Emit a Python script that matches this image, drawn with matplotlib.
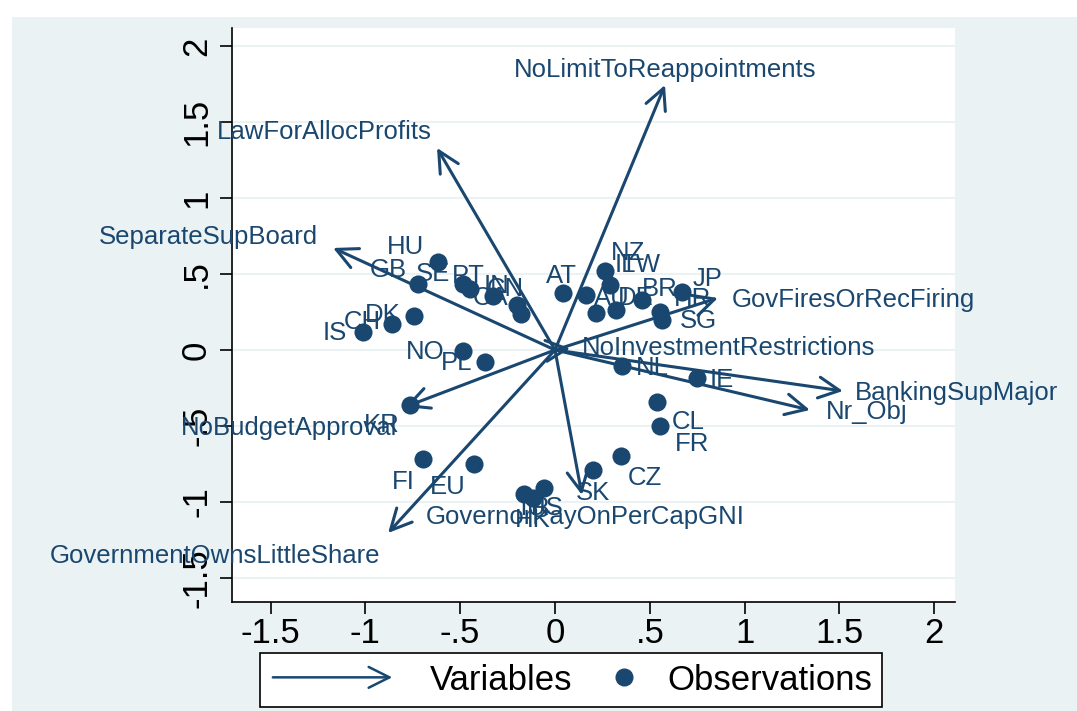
import matplotlib
matplotlib.use('Agg')
import matplotlib.pyplot as plt
from matplotlib.patches import FancyArrowPatch, Rectangle
from matplotlib.lines import Line2D
from matplotlib.legend_handler import HandlerBase

plt.rcParams['font.family'] = ['Liberation Sans', 'DejaVu Sans']

navy = '#1A476F'
bg = '#EAF2F3'

# variable loadings (arrow tips)
var_names = ['NoLimitToReappointments', 'LawForAllocProfits', 'SeparateSupBoard',
             'GovFiresOrRecFiring', 'BankingSupMajor', 'Nr_Obj', 'NoInvestmentRestrictions',
             'NoBudgetApproval', 'GovernmentOwnsLittleShare', 'GovernorPayOnPerCapGNI']
var_x = [0.580, -0.622, -1.170, 0.859, 1.518, 1.344, 0.080, -0.791, -0.880, 0.142]
var_y = [1.743, 1.329, 0.671, 0.342, -0.270, -0.395, 0.010, -0.375, -1.204, -0.954]

# observation scores
obs_names = ['HU', 'GB', 'SE', 'PT', 'IN', 'CA', 'CN', 'DK', 'CH', 'IS', 'NO', 'PL',
             'KR', 'FI', 'EU', 'TR', 'HK', 'US', 'SK', 'CZ', 'CL', 'FR', 'NL', 'IE',
             'SG', 'HR', 'JP', 'BR', 'DE', 'AU', 'TW', 'NZ', 'IL', 'AT']
obs_x = [-0.617, -0.722, -0.485, -0.448, -0.327, -0.200, -0.179, -0.743, -0.859, -1.012,
         -0.485, -0.369, -0.764, -0.696, -0.427, -0.163, -0.116, -0.058, 0.200, 0.348,
         0.538, 0.553, 0.353, 0.749, 0.564, 0.553, 0.669, 0.459, 0.322, 0.216,
         0.290, 0.264, 0.163, 0.042]
obs_y = [0.579, 0.434, 0.434, 0.401, 0.355, 0.296, 0.237, 0.224, 0.171, 0.118,
         -0.007, -0.079, -0.362, -0.717, -0.750, -0.947, -0.974, -0.908, -0.789, -0.697,
         -0.342, -0.500, -0.105, -0.184, 0.197, 0.250, 0.382, 0.329, 0.263, 0.243,
         0.428, 0.520, 0.362, 0.375]

ticks = [-1.5, -1, -0.5, 0, 0.5, 1, 1.5, 2]
tick_labels = ['-1.5', '-1', '-.5', '0', '.5', '1', '1.5', '2']

# label placement (pixel offsets, alignment)
var_pos = {
    'NoLimitToReappointments': (0, 15, 'center'),
    'LawForAllocProfits': (-5, 16, 'right'),
    'SeparateSupBoard': (-15, 11, 'right'),
    'GovFiresOrRecFiring': (14, -2, 'left'),
    'BankingSupMajor': (12, -2, 'left'),
    'Nr_Obj': (16, -2, 'left'),
    'NoInvestmentRestrictions': (12, 0, 'left'),
    'NoBudgetApproval': (-8, -21, 'right'),
    'GovernmentOwnsLittleShare': (-8, -23, 'right'),
    'GovernorPayOnPerCapGNI': (3, -22, 'center'),
}
obs_pos = {
    'HU': (-32, 15), 'GB': (-30, 14), 'SE': (-30, 10), 'PT': (-2, 13), 'IN': (4, 10),
    'CA': (-27, 7), 'CN': (-16, 25), 'DK': (-31, 1), 'CH': (-30, 2), 'IS': (-28, -1),
    'NO': (-38, -1), 'PL': (-28, -1), 'KR': (-28, -20), 'FI': (-20, -23), 'EU': (-26, -23),
    'TR': (8, -14), 'HK': (0, -22), 'US': (1, -20), 'SK': (0, -23), 'CZ': (24, -22),
    'CL': (31, -20), 'FR': (32, -18), 'NL': (30, -2), 'IE': (25, -2), 'SG': (36, -1),
    'HR': (33, 13), 'JP': (26, 13), 'BR': (18, 11), 'DE': (20, 12), 'AU': (16, 15),
    'TW': (30, 20), 'NZ': (23, 18), 'IL': (39, 30), 'AT': (-2, 17),
}

fig = plt.figure(figsize=(10.77, 7.11), dpi=100)
fig.patches.append(Rectangle((12 / 1077, 0), 1, (711 - 17) / 711, transform=fig.transFigure,
                             facecolor=bg, edgecolor='none', zorder=-10))

ax = fig.add_axes([232 / 1077, 1 - 602 / 711, (955 - 232) / 1077, (602 - 28) / 711])
ax.set_xlim(-1.703, 2.109)
ax.set_ylim(-1.658, 2.118)
ax.set_facecolor('white')
for s in ['top', 'right']:
    ax.spines[s].set_visible(False)
for s in ['left', 'bottom']:
    ax.spines[s].set_linewidth(1.2)

ax.set_xticks(ticks)
ax.set_xticklabels(tick_labels)
ax.set_yticks(ticks)
ax.set_yticklabels(tick_labels, rotation=90, va='center')
ax.tick_params(length=8.6, width=1.2, labelsize=25)
ax.tick_params(axis='y', pad=5)
ax.tick_params(axis='x', pad=2)
ax.yaxis.grid(True, color=bg, lw=1.5)
ax.set_axisbelow(True)

# arrows for variables
arrow_style = '->,head_length=0.5,head_width=0.25'
for name, vx, vy in zip(var_names, var_x, var_y):
    ax.annotate('', xy=(vx, vy), xytext=(0, 0),
                arrowprops=dict(arrowstyle=arrow_style, color=navy, lw=2.2,
                                shrinkA=0, shrinkB=0, mutation_scale=30))
    dx, dy, ha = var_pos[name]
    ax.annotate(name, (vx, vy), xytext=(dx, dy), textcoords='offset pixels',
                ha=ha, va='center', fontsize=18.5, color=navy, annotation_clip=False)

# observations
ax.scatter(obs_x, obs_y, s=170, color=navy, linewidths=0, zorder=3)
for name, ox, oy in zip(obs_names, obs_x, obs_y):
    dx, dy = obs_pos[name]
    ax.annotate(name, (ox, oy), xytext=(dx, dy), textcoords='offset pixels',
                ha='center', va='center', fontsize=18.5, color=navy, annotation_clip=False)


class ArrowHandler(HandlerBase):
    def create_artists(self, legend, orig_handle, xdescent, ydescent, width, height, fontsize, trans):
        y = height / 2 - ydescent
        a = FancyArrowPatch((-xdescent, y), (width - xdescent, y), arrowstyle=arrow_style,
                            mutation_scale=30, lw=1.8, color=navy, transform=trans)
        return [a]


class DotHandler(HandlerBase):
    def create_artists(self, legend, orig_handle, xdescent, ydescent, width, height, fontsize, trans):
        m = Line2D([width - xdescent - 6], [height / 2 - ydescent], marker='o', ms=12,
                   color=navy, ls='none', transform=trans)
        return [m]


arrow_proxy = FancyArrowPatch((0, 0), (1, 1))
dot_proxy = Line2D([], [])
leg = fig.legend([arrow_proxy, dot_proxy], ['Variables', 'Observations'],
                 handler_map={arrow_proxy: ArrowHandler(), dot_proxy: DotHandler()},
                 loc='center', bbox_to_anchor=(571 / 1077, 1 - 680 / 711), ncol=2,
                 fontsize=25, frameon=True, fancybox=False, edgecolor='black',
                 framealpha=1, handlelength=3.6, handletextpad=1.0,
                 columnspacing=-1.87, borderpad=0.3)
leg.get_frame().set_linewidth(1.2)

fig.savefig('out.png', dpi=100)
